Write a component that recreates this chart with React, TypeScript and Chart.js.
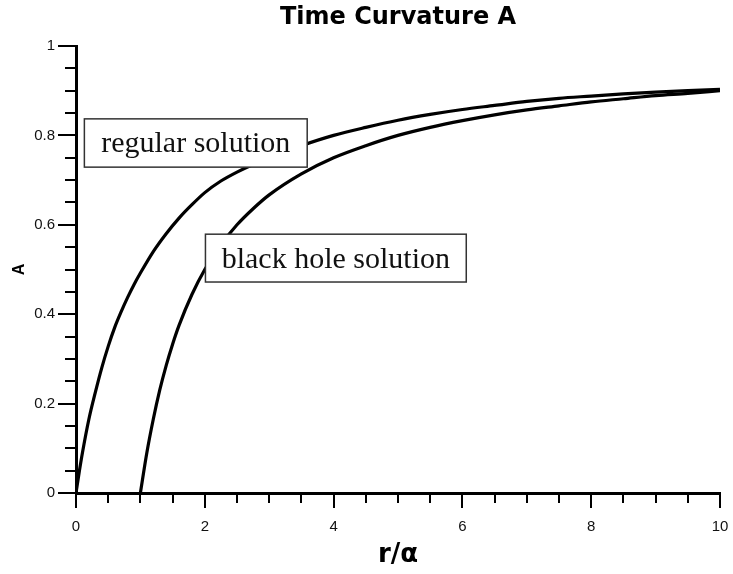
import { useEffect, useRef } from 'react';
import { Chart, registerables } from 'chart.js';

Chart.register(...registerables);

const TITLE = 'Time Curvature A';
const X_TITLE = 'r/α';
const Y_TITLE = 'A';

// regular solution
const regularX = [0, 0.05, 0.1, 0.2, 0.3, 0.4, 0.5, 0.6, 0.7, 0.8, 0.9, 1.0, 1.2, 1.4, 1.6, 1.8, 2.0, 2.25, 2.5, 2.75, 3.0, 3.5, 4, 4.5, 5, 5.5, 6, 6.5, 7, 7.5, 8, 8.5, 9, 9.5, 10];
const regularA = [0, 0.047, 0.09, 0.165, 0.225, 0.28, 0.328, 0.37, 0.405, 0.437, 0.466, 0.492, 0.54, 0.58, 0.615, 0.645, 0.672, 0.698, 0.718, 0.735, 0.75, 0.777, 0.8, 0.818, 0.834, 0.847, 0.858, 0.867, 0.876, 0.883, 0.888, 0.893, 0.897, 0.9, 0.903];

// black hole solution
const blackHoleX = [1, 1.1, 1.2, 1.3, 1.4, 1.5, 1.6, 1.8, 2, 2.25, 2.5, 2.75, 3, 3.5, 4, 4.5, 5, 5.5, 6, 6.5, 7, 7.5, 8, 8.5, 9, 9.5, 10];
const blackHoleA = [0, 0.09, 0.165, 0.23, 0.285, 0.333, 0.375, 0.444, 0.5, 0.555, 0.6, 0.636, 0.667, 0.714, 0.75, 0.777, 0.8, 0.818, 0.833, 0.846, 0.857, 0.866, 0.875, 0.882, 0.889, 0.894, 0.9];

const X_MIN = 0, X_MAX = 10, X_MAJOR = 2, X_MINOR = 0.5;
const Y_MIN = 0, Y_MAX = 1, Y_MAJOR = 0.2, Y_MINOR = 0.05;

// text boxes, anchored in data units
const labelTexts = ['regular solution', 'black hole solution'];
const labelX0 = [0.13, 2.01];
const labelX1 = [3.59, 6.06];
const labelYTop = [0.837, 0.579];
const labelYBottom = [0.729, 0.472];

const isMajor = (v: number, step: number) => Math.abs(v / step - Math.round(v / step)) < 1e-6;

const minorTicksPlugin = {
  id: 'minorTicks',
  afterDraw(chart: any) {
    const { ctx, chartArea, scales } = chart;
    const xs = scales.x;
    const ys = scales.y;
    ctx.save();
    ctx.strokeStyle = '#000';
    ctx.lineWidth = 2;
    ctx.beginPath();
    const nx = Math.round((X_MAX - X_MIN) / X_MINOR);
    for (let i = 1; i <= nx; i++) {
      const v = X_MIN + i * X_MINOR;
      if (isMajor(v, X_MAJOR)) continue;
      const px = Math.round(xs.getPixelForValue(v));
      ctx.moveTo(px, chartArea.bottom);
      ctx.lineTo(px, chartArea.bottom + 10);
    }
    const ny = Math.round((Y_MAX - Y_MIN) / Y_MINOR);
    for (let i = 1; i <= ny; i++) {
      const v = Y_MIN + i * Y_MINOR;
      if (isMajor(v, Y_MAJOR)) continue;
      const py = Math.round(ys.getPixelForValue(v));
      ctx.moveTo(chartArea.left - 11, py);
      ctx.lineTo(chartArea.left + 1, py);
    }
    ctx.stroke();
    ctx.restore();
  },
};

const textBoxPlugin = {
  id: 'textBoxes',
  afterDatasetsDraw(chart: any) {
    const { ctx, scales } = chart;
    const xs = scales.x;
    const ys = scales.y;
    ctx.save();
    for (let i = 0; i < labelTexts.length; i++) {
      const l = xs.getPixelForValue(labelX0[i]);
      const r = xs.getPixelForValue(labelX1[i]);
      const t = ys.getPixelForValue(labelYTop[i]);
      const b = ys.getPixelForValue(labelYBottom[i]);
      ctx.fillStyle = '#fff';
      ctx.fillRect(l, t, r - l, b - t);
      ctx.strokeStyle = '#333';
      ctx.lineWidth = 1.5;
      ctx.strokeRect(l, t, r - l, b - t);
      ctx.fillStyle = '#111';
      ctx.font = '30px "Liberation Serif", "Times New Roman", serif';
      ctx.textAlign = 'center';
      ctx.textBaseline = 'alphabetic';
      ctx.fillText(labelTexts[i], (l + r) / 2, (t + b) / 2 + 9.5);
    }
    ctx.restore();
  },
};

const fmt = (v: any) => String(+Number(v).toFixed(2));

export default function App() {
  const ref = useRef<HTMLCanvasElement | null>(null);

  useEffect(() => {
    if (!ref.current) return;
    const chart = new Chart(ref.current, {
      type: 'line',
      data: {
        datasets: [
          {
            label: 'regular solution',
            data: regularX.map((x, i) => ({ x, y: regularA[i] })),
            borderColor: '#000',
            borderWidth: 3.2,
            pointRadius: 0,
            fill: false,
            cubicInterpolationMode: 'monotone',
          },
          {
            label: 'black hole solution',
            data: blackHoleX.map((x, i) => ({ x, y: blackHoleA[i] })),
            borderColor: '#000',
            borderWidth: 3.2,
            pointRadius: 0,
            fill: false,
            cubicInterpolationMode: 'monotone',
          },
        ],
      },
      options: {
        responsive: false,
        animation: false,
        devicePixelRatio: 1,
        layout: { padding: { left: 0, right: 13, top: 0, bottom: 0 } },
        plugins: {
          legend: { display: false },
          tooltip: { enabled: false },
          title: {
            display: true,
            text: TITLE,
            fullSize: false,
            color: '#000',
            font: { family: '"DejaVu Sans", sans-serif', size: 24, weight: 'bold' },
            padding: { top: 3, bottom: 14.2 },
          },
        },
        scales: {
          x: {
            type: 'linear',
            min: X_MIN,
            max: X_MAX,
            afterFit: (s: any) => { s.height = 81; s.paddingLeft = 0; s.paddingRight = 0; },
            ticks: {
              stepSize: X_MAJOR,
              color: '#111',
              padding: 10,
              maxRotation: 0,
              callback: fmt,
              font: { family: 'Liberation Sans', size: 15 },
            },
            grid: { drawOnChartArea: false, drawTicks: true, tickLength: 15, color: '#000', lineWidth: 2 },
            border: { display: true, color: '#000', width: 3 },
            title: {
              display: true,
              text: X_TITLE,
              color: '#000',
              font: { family: 'DejaVu Sans', size: 26, weight: 'bold' },
              padding: { top: 0, bottom: 3 },
            },
          },
          y: {
            type: 'linear',
            min: Y_MIN,
            max: Y_MAX,
            afterFit: (s: any) => { s.width = 76; },
            ticks: {
              stepSize: Y_MAJOR,
              color: '#111',
              padding: 3,
              callback: fmt,
              font: { family: 'Liberation Sans', size: 15 },
            },
            grid: { drawOnChartArea: false, drawTicks: true, tickLength: 18, color: '#000', lineWidth: 2 },
            border: { display: true, color: '#000', width: 3 },
            title: {
              display: true,
              text: Y_TITLE,
              color: '#000',
              font: { family: 'Liberation Sans', size: 16, weight: 'bold' },
              padding: { top: 10, bottom: 0 },
            },
          },
        },
      },
      plugins: [minorTicksPlugin, textBoxPlugin],
    } as any);
    return () => chart.destroy();
  }, []);

  return (
    <div style={{ position: 'fixed', left: 0, top: 0, width: 733, height: 574, background: '#fff' }}>
      <canvas ref={ref} width={733} height={574} style={{ width: 733, height: 574, display: 'block' }} />
    </div>
  );
}
